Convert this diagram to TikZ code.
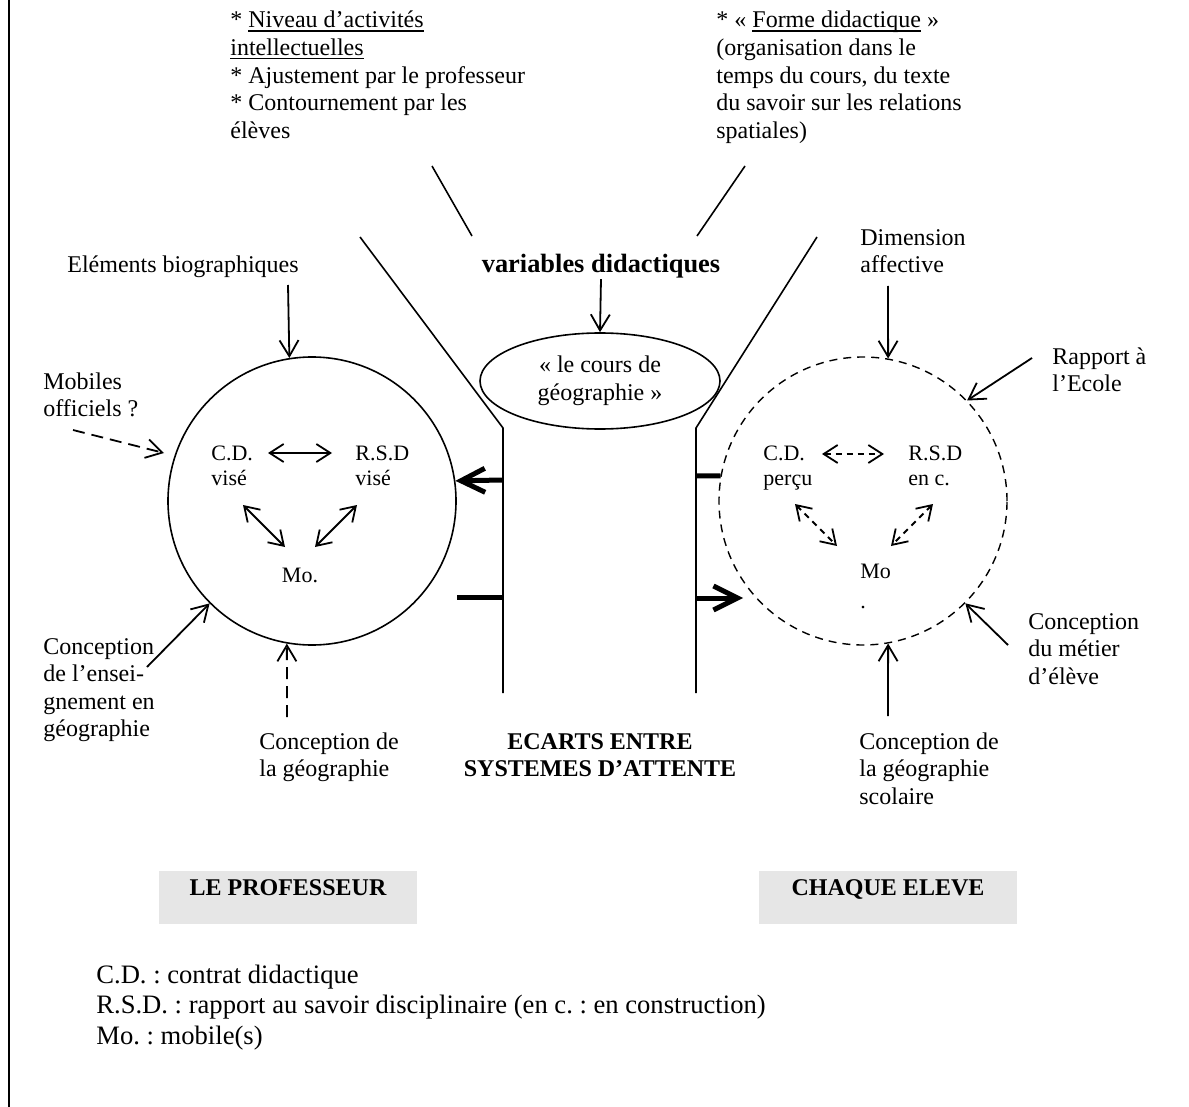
\documentclass[tikz,border=0pt]{standalone}
\usepackage{fontspec}
\setmainfont{Liberation Serif}
\usepackage{xcolor}
\usetikzlibrary{positioning,arrows.meta,shapes.geometric,calc}
\definecolor{boxgray}{HTML}{E6E6E6}
\newcommand\uln[1]{\leavevmode\setbox0\hbox{#1}\rlap{\rule[-1.8pt]{\wd0}{0.6pt}}\box0}
\frenchspacing

\begin{document}
\begin{tikzpicture}[x=0.5pt,y=-0.5pt,
  txt/.style={inner sep=0pt,align=left,font=\fontsize{12}{13.8}\selectfont},
  sml/.style={inner sep=0pt,align=left,font=\fontsize{11}{12.6}\selectfont},
  ttl/.style={inner sep=0pt,align=center,font=\fontsize{12}{13.8}\selectfont\bfseries},
  who/.style={inner sep=0pt,fill=boxgray,minimum width=129pt,text height=12pt,
              text depth=14.5pt,font=\fontsize{12}{13.8}\selectfont\bfseries},
  ring/.style={circle,draw,line width=0.8pt,minimum size=144pt,inner sep=0pt},
  wall/.style={line width=0.8pt},
  a/.style={-{Straight Barb[length=8pt,width=9.5pt]},line width=0.9pt},
  aa/.style={{Straight Barb[length=7pt,width=9pt]}-{Straight Barb[length=7pt,width=9pt]},line width=0.9pt},
  da/.style={a,dash pattern=on 6pt off 3.5pt},
  daa/.style={aa,dash pattern=on 3pt off 2.5pt},
  big/.style={-{Straight Barb[length=12pt,width=12pt]},line width=2.5pt},
  bar/.style={line width=2.5pt}]
\useasboundingbox (0,0) rectangle (1189,1107);
\draw[line width=1pt] (9,0) -- (9,1107);

% variables didactiques (base = last line)
\node[txt,anchor=base west] (niveau) at (230,138.4)
  {* \uln{Niveau d’activités}\\\uln{intellectuelles}\\{*} Ajustement par le professeur\\{*} Contournement par les\\élèves};
\node[txt,anchor=base west] (forme) at (716,138.4)
  {* « \uln{Forme didactique}\ »\\(organisation dans le\\temps du cours, du texte\\du savoir sur les relations\\spatiales)};
\draw[wall] (432,166) -- (472,236);
\draw[wall] (745,166) -- (697,236);
\node[inner sep=0pt,font=\fontsize{13.2}{15}\selectfont\bfseries,anchor=base] (vars) at (601,273) {variables didactiques};
\node[ellipse,draw,line width=0.8pt,minimum width=120pt,minimum height=48pt,inner sep=0pt,
      align=center,font=\fontsize{12}{13.8}\selectfont] (cours) at (600,381) {« le cours de\\géographie »};
\draw[a] (vars.south) -- (cours.north);

% ecarts
\draw[wall] (360,237) -- (503,428) -- (503,693);
\draw[wall] (817,237) -- (696,428) -- (696,693);
\node[ttl,anchor=base] (ecarts) at (600,776.6) {ECARTS ENTRE\\SYSTEMES D’ATTENTE};

% le professeur
\node[ring] (prof) at (312,501) {};
\node[txt,anchor=base] (elem) at (183,273) {Eléments biographiques};
\node[txt,anchor=base west] (mob) at (43,416.6) {Mobiles\\officiels ?};
\node[txt,anchor=base west] (ens) at (43,736.8) {Conception\\de l’ensei-\\gnement en\\géographie};
\node[txt,anchor=base west] (geo) at (259,776.6) {Conception de\\la géographie};
\node[sml,anchor=base west] (cdv) at (211,485.2) {C.D.\\visé};
\node[sml,anchor=base west] (rsdv) at (355,485.2) {R.S.D\\visé};
\node[sml,anchor=base] (mov) at (300,582) {Mo.};
\coordinate (elemT) at (288,285);
\coordinate (mobT) at (73,430);
\coordinate (mobH) at (164,453);
\coordinate (ensT) at (147,667);
\coordinate (geoT) at (287,717);
\draw[a] (elemT) -- (prof.99);
\draw[da] (mobT) -- (mobH);
\draw[a] (ensT) -- (prof.225);
\draw[da] (geoT) -- (prof.260);
\coordinate (v1) at (268,453); \coordinate (v2) at (332,453);
\coordinate (v3) at (243,505); \coordinate (v4) at (285,547);
\coordinate (v5) at (357,505); \coordinate (v6) at (315,547);
\draw[aa] (v1) -- (v2);
\draw[aa] (v3) -- (v4);
\draw[aa] (v5) -- (v6);
\coordinate (lw1) at (503,480);
\coordinate (lw2) at (503,597);
\coordinate (lb2) at (457,597);
\draw[big] (lw1) -- (prof.8);
\draw[bar] (lw2) -- (lb2);

% chaque eleve
\node[ring,line width=0.7pt,dash pattern=on 4pt off 3pt] (eleve) at (863,501) {};
\node[txt,anchor=base west] (dim) at (860,272.6) {Dimension\\affective};
\node[txt,anchor=base west] (rap) at (1052,391.6) {Rapport à\\l’Ecole};
\node[txt,anchor=base west] (met) at (1028,684.2) {Conception\\du métier\\d’élève};
\node[txt,anchor=base west] (sco) at (859,804.2) {Conception de\\la géographie\\scolaire};
\node[sml,anchor=base west] (cdp) at (763,485.2) {C.D.\\perçu};
\node[sml,anchor=base west] (rsdc) at (908,485.2) {R.S.D\\en c.};
\node[sml,anchor=base west] (mop) at (860,608) {Mo\\[2pt].};
\coordinate (dimT) at (888,286);
\coordinate (rapT) at (1032,358);
\coordinate (metT) at (1008,645);
\coordinate (scoT) at (888,716);
\draw[a] (dimT) -- (eleve.80);
\draw[a] (rapT) -- (eleve.44);
\draw[a] (metT) -- (eleve.-45);
\draw[a] (scoT) -- (eleve.-80);
\coordinate (e1) at (822,454); \coordinate (e2) at (884,454);
\coordinate (e3) at (795,504); \coordinate (e4) at (837,546);
\coordinate (e5) at (933,504); \coordinate (e6) at (891,546);
\draw[daa] (e1) -- (e2);
\draw[daa] (e3) -- (e4);
\draw[daa] (e5) -- (e6);
\coordinate (rw1) at (696,476);
\coordinate (rw2) at (696,598);
\coordinate (rh2) at (743,598);
\draw[bar] (rw1) -- (eleve.170);
\draw[big] (rw2) -- (rh2);

% boites et legende
\node[who,anchor=base] (prof box) at (288,895) {LE PROFESSEUR};
\node[who,anchor=base] (eleve box) at (888,895) {CHAQUE ELEVE};
\node[inner sep=0pt,align=left,font=\fontsize{13.3}{15.3}\selectfont,anchor=base west] (legende) at (96,1044.5)
  {C.D. : contrat didactique\\R.S.D. : rapport au savoir disciplinaire (en c. : en construction)\\Mo. : mobile(s)};
\end{tikzpicture}
\end{document}
